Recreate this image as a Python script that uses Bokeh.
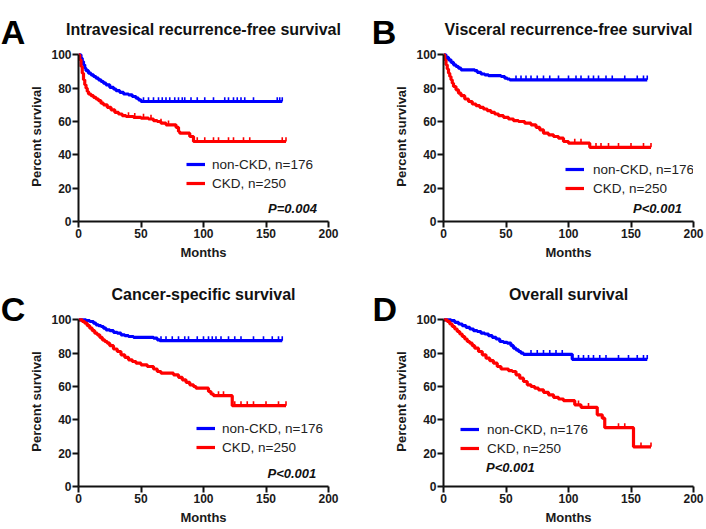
import numpy as np
from bokeh.plotting import figure
from bokeh.models import Range1d, Label, Legend, LegendItem, FixedTicker
from bokeh.layouts import gridplot
from bokeh.embed import file_html
from bokeh.resources import INLINE

BLUE = "#0000FF"
RED = "#FF0000"
FONT = "Liberation Sans"

# Kaplan-Meier estimates: event times (months) and survival (%) after each event,
# plus follow-up end and censoring times for each group.

# A: intravesical recurrence-free survival
a_nonckd_t = [0, 2, 3, 4, 5, 6, 8, 10, 12, 14, 16, 18, 20, 22, 25, 28, 30, 33, 36, 40, 43, 46, 48, 50]
a_nonckd_s = [100, 98, 96, 94, 92, 90.5, 89, 88, 87, 86, 85, 84, 83, 82, 80.5, 79.5, 78.5, 77.5, 76.5, 76, 75, 74, 73, 72]
a_nonckd_end = 163
a_nonckd_cens = [52, 56, 60, 64, 67, 70, 73, 77, 80, 83, 85, 90, 95, 101, 108, 117, 120, 124, 127, 130, 133, 140, 159, 161]
a_ckd_t = [0, 1, 2, 3, 4, 5, 6, 7, 8, 10, 12, 14, 16, 18, 20, 23, 26, 29, 32, 35, 38, 44, 50, 56, 60, 63, 66, 70, 78, 80, 81, 89, 92]
a_ckd_s = [100, 97, 93, 89, 85, 82, 80, 78, 76.5, 75.5, 74.5, 73.5, 72.5, 71, 70, 68.5, 67, 65.5, 64.5, 63.5, 63, 62.5, 62, 61.5, 60.5, 60, 59, 58, 56.5, 54, 53, 51, 48]
a_ckd_end = 166
a_ckd_cens = [40, 45, 52, 58, 66, 72, 95, 101, 108, 112, 120, 124, 132, 137, 163]

# B: visceral recurrence-free survival
b_nonckd_t = [0, 2, 4, 6, 8, 10, 12, 14, 25, 27, 30, 33, 36, 46, 49, 51, 53]
b_nonckd_s = [100, 98.5, 97, 95.5, 94, 93, 92, 91, 90.5, 89.5, 88.5, 88, 87.5, 87, 86, 85.5, 85]
b_nonckd_end = 163
b_nonckd_cens = [58, 62, 66, 70, 75, 80, 85, 92, 100, 106, 110, 116, 120, 124, 130, 135, 145, 155, 160]
b_ckd_t = [0, 1, 2, 3, 4, 5, 6, 7, 8, 10, 12, 14, 17, 20, 23, 26, 29, 32, 35, 38, 41, 44, 48, 52, 56, 60, 65, 70, 74, 77, 80, 84, 88, 92, 96, 100, 117]
b_ckd_s = [100, 97, 94, 91.5, 89, 87, 85, 83, 81, 79, 77, 75.5, 73.5, 72, 70.5, 69.5, 68.5, 67.5, 66.5, 65.5, 64.5, 63.5, 62.5, 61.5, 60.5, 60, 59, 58, 56.5, 55, 53, 52, 51, 50, 48, 47, 44.5]
b_ckd_end = 166
b_ckd_cens = [105, 110, 122, 126, 132, 140, 150, 160]

# C: cancer-specific survival
c_nonckd_t = [0, 6, 9, 12, 14, 16, 18, 20, 22, 25, 28, 31, 34, 37, 40, 44, 60, 63, 65]
c_nonckd_s = [100, 99.5, 99, 98, 97, 96.5, 96, 95, 94, 93.5, 92.5, 92, 91, 90.5, 90, 89.5, 89, 88, 87.5]
c_nonckd_end = 163
c_nonckd_cens = [66, 70, 75, 80, 85, 88, 95, 100, 104, 107, 110, 114, 120, 125, 130, 140, 148, 155, 160]
c_ckd_t = [0, 3, 5, 7, 9, 11, 13, 15, 17, 19, 21, 23, 25, 28, 31, 34, 37, 40, 43, 46, 50, 55, 60, 63, 66, 76, 80, 83, 86, 89, 92, 94, 104, 106, 108, 123]
c_ckd_s = [100, 99, 98, 96.5, 95, 93.5, 92, 91, 89.5, 88, 87, 86, 84.5, 82.5, 81, 79, 77.5, 76, 75, 74, 73, 72, 70.5, 69, 68, 67, 65.5, 64, 62.5, 61, 60, 59, 57, 55.5, 54.5, 48.5]
c_ckd_end = 166
c_ckd_cens = [112, 116, 125, 130, 135, 140, 150, 160]

# D: overall survival
d_nonckd_t = [0, 6, 9, 12, 15, 18, 21, 24, 27, 30, 33, 36, 39, 42, 45, 48, 51, 54, 56, 58, 60, 62, 64, 103]
d_nonckd_s = [100, 99.5, 98.5, 97.5, 96.5, 95.5, 94.5, 93.5, 93, 92, 91.5, 90.5, 89.5, 88.5, 87, 86.5, 86, 84.5, 83, 82, 81, 80, 79.3, 76.3]
d_nonckd_end = 163
d_nonckd_cens = [70, 75, 80, 85, 90, 95, 108, 112, 116, 120, 125, 130, 140, 148, 155, 160]
d_ckd_t = [0, 3, 5, 7, 9, 11, 13, 15, 17, 19, 21, 23, 25, 28, 31, 34, 37, 40, 43, 46, 52, 55, 58, 61, 64, 67, 70, 73, 76, 80, 84, 88, 92, 96, 105, 110, 123, 127, 129, 152]
d_ckd_s = [100, 99, 97.5, 96, 94.5, 93, 91.5, 90, 88.5, 87, 86, 84.5, 83, 81, 79, 77, 75.5, 74, 72, 70.5, 69.5, 69, 67, 65, 63, 61, 60, 59, 58, 56.5, 55, 53.5, 52.5, 51.5, 49, 47.5, 43, 41, 35.3, 23.8]
d_ckd_end = 166
d_ckd_cens = [108, 116, 140, 145, 158]

group_labels = ["non-CKD, n=176", "CKD, n=250"]
titles = ["Intravesical recurrence-free survival", "Visceral recurrence-free survival",
          "Cancer-specific survival", "Overall survival"]
panel_letters = ["A", "B", "C", "D"]
p_values = ["P=0.004", "P<0.001", "P<0.001", "P<0.001"]
x_ticks = [0, 50, 100, 150, 200]
y_ticks = [0, 20, 40, 60, 80, 100]


def surv_at(t_ev, s_ev, tq):
    idx = np.searchsorted(np.asarray(t_ev), np.asarray(tq), side="right") - 1
    return np.asarray(s_ev)[idx]


def draw_group(p, t_ev, s_ev, t_end, cens, color):
    xs = list(t_ev) + [t_end]
    ys = list(s_ev) + [s_ev[-1]]
    r = p.step(xs, ys, mode="after", line_color=color, line_width=3.2)
    ct = list(cens) + [t_end]
    cy = surv_at(t_ev, s_ev, ct)
    p.segment(x0=ct, y0=cy, x1=ct, y1=cy + 2.6, line_color=color, line_width=1.6)
    return r


def make_panel(k, groups, left, right, height, letter_xy, legend_loc, standoff, p_pos, p_align):
    p = figure(width=left + 250 + right, height=height, frame_width=250, frame_height=170,
               x_range=Range1d(0, 200), y_range=Range1d(0, 102),
               min_border_left=left, min_border_right=right,
               min_border_top=51, min_border_bottom=height - 51 - 170,
               output_backend="svg", toolbar_location=None)
    p.outline_line_color = None
    p.grid.visible = False
    p.background_fill_color = "white"
    p.border_fill_color = "white"

    for ax, ticks in ((p.xaxis, x_ticks), (p.yaxis, y_ticks)):
        ax.ticker = FixedTicker(ticks=ticks)
        ax.bounds = (ticks[0], ticks[-1])
        ax.axis_line_width = 2
        ax.axis_line_color = "#111111"
        ax.major_tick_line_width = 2
        ax.major_tick_line_color = "#111111"
        ax.major_tick_out = 6
        ax.major_tick_in = 0
        ax.minor_tick_out = 0
        ax.minor_tick_in = 0
        ax.major_label_text_font = FONT
        ax.major_label_text_font_style = "bold"
        ax.major_label_text_font_size = "12px"
        ax.major_label_text_color = "#1a1a1a"
        ax.major_label_standoff = 1
        ax.axis_label_text_font = FONT
        ax.axis_label_text_font_style = "bold"
        ax.axis_label_text_font_size = "13px"
        ax.axis_label_text_color = "#1a1a1a"
        ax.axis_label_standoff = 4
    p.xaxis.axis_label = "Months"
    p.yaxis.axis_label = "Percent survival"

    (t1, s1, e1, c1), (t2, s2, e2, c2) = groups
    r_blue = draw_group(p, t1, s1, e1, c1, BLUE)
    r_red = draw_group(p, t2, s2, e2, c2, RED)

    legend = Legend(items=[LegendItem(label=group_labels[0], renderers=[r_blue]),
                           LegendItem(label=group_labels[1], renderers=[r_red])],
                    location=legend_loc, orientation="vertical",
                    glyph_width=19, glyph_height=18, label_height=18, spacing=1,
                    padding=0, margin=0, label_standoff=standoff,
                    border_line_color=None, background_fill_alpha=0,
                    label_text_font=FONT, label_text_font_size="13.5px",
                    label_text_color="#222222")
    p.add_layout(legend, "center")

    # the title lives in the top side panel, the panel letter in the left one,
    # so neither is clipped to the frame
    p.add_layout(Label(x=100, y=115.1, text=titles[k], text_align="center",
                       text_baseline="middle", text_font=FONT, text_font_style="bold",
                       text_font_size="16px", text_color="#111111"), "above")
    p.add_layout(Label(x=letter_xy[0], y=letter_xy[1], text=panel_letters[k],
                       text_align="center", text_baseline="middle", text_font=FONT,
                       text_font_style="bold", text_font_size="34px", text_color="black"),
                 "left")
    p.add_layout(Label(x=p_pos[0], y=p_pos[1], text=p_values[k], text_align=p_align,
                       text_baseline="middle", text_font=FONT,
                       text_font_style="bold italic", text_font_size="13px",
                       text_color="#111111"))
    return p


pa = make_panel(0, [(a_nonckd_t, a_nonckd_s, a_nonckd_end, a_nonckd_cens),
                    (a_ckd_t, a_ckd_s, a_ckd_end, a_ckd_cens)],
                78, 25, 265, (-52.4, 114), (108, 29), 7, (190.7, 7.6), "right")
pb = make_panel(1, [(b_nonckd_t, b_nonckd_s, b_nonckd_end, b_nonckd_cens),
                    (b_ckd_t, b_ckd_s, b_ckd_end, b_ckd_cens)],
                90, 13, 265, (-47.6, 114), (122, 24), 9, (190.7, 7.6), "right")
pc = make_panel(2, [(c_nonckd_t, c_nonckd_s, c_nonckd_end, c_nonckd_cens),
                    (c_ckd_t, c_ckd_s, c_ckd_end, c_ckd_cens)],
                78, 25, 264, (-52.4, 106.5), (118, 30), 7, (190.2, 7.6), "right")
pd_ = make_panel(3, [(d_nonckd_t, d_nonckd_s, d_nonckd_end, d_nonckd_cens),
                     (d_ckd_t, d_ckd_s, d_ckd_end, d_ckd_cens)],
                 90, 13, 264, (-47, 106.5), (17, 29), 8, (34, 11.2), "left")

grid = gridplot([[pa, pb], [pc, pd_]], toolbar_location=None)

with open("out.html", "w") as f:
    f.write(file_html(grid, INLINE))
